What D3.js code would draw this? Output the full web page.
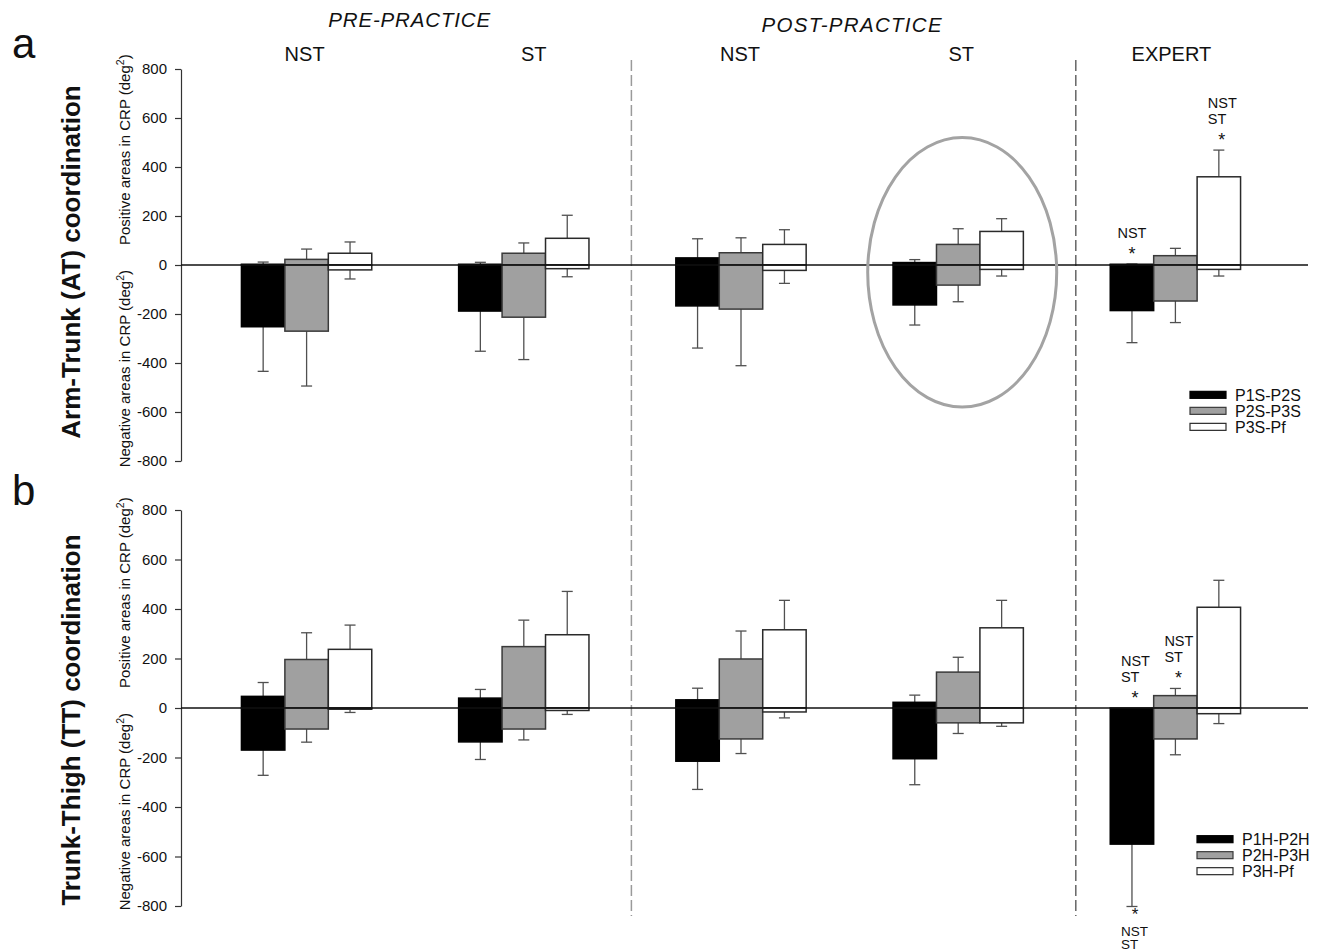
<!DOCTYPE html>
<html>
<head>
<meta charset="utf-8">
<script src="https://cdn.jsdelivr.net/npm/d3@7"></script>
<style>
  body { margin: 0; background: #fff; }
  svg { display: block; }
  text { font-family: "Liberation Sans", Arial, Helvetica, sans-serif; fill: #111; }
</style>
</head>
<body>
<svg id="chart" width="1321" height="952"></svg>
<script>
// ---- data ----------------------------------------------------------------
const groupLabels = ["NST", "ST", "NST", "ST", "EXPERT"];
const phaseLabels = ["PRE-PRACTICE", "POST-PRACTICE"];
const phaseGroups = [[0, 1], [2, 3]];
const yTicks = [-800, -600, -400, -200, 0, 200, 400, 600, 800];

// Arm-Trunk (AT): mean positive / negative CRP areas and their SD, one row per phase segment
const seriesAT = ["P1S-P2S", "P2S-P3S", "P3S-Pf"];
const atPos   = [[3, 3, 29, 10, 3], [23, 48, 50, 84, 38], [48, 109, 84, 137, 360]];
const atPosSD = [[9, 8, 78, 12, 1], [42, 42, 61, 64, 30], [46, 94, 60, 52, 109]];
const atNeg   = [[-252, -188, -167, -163, -186], [-270, -213, -180, -82, -147], [-20, -15, -22, -18, -18]];
const atNegSD = [[182, 164, 172, 82, 131], [224, 173, 231, 68, 88], [37, 33, 53, 27, 27]];

// Trunk-Thigh (TT)
const seriesTT = ["P1H-P2H", "P2H-P3H", "P3H-Pf"];
const ttPos   = [[47, 40, 33, 23, 0], [196, 248, 198, 145, 50], [237, 296, 316, 324, 407]];
const ttPosSD = [[56, 35, 47, 29, 0], [108, 107, 113, 60, 29], [98, 175, 119, 111, 109]];
const ttNeg   = [[-170, -137, -215, -205, -550], [-85, -85, -125, -60, -125], [-5, -10, -16, -60, -23]];
const ttNegSD = [[102, 71, 114, 105, 252], [53, 44, 59, 43, 64], [13, 16, 24, 14, 40]];

// significance marks (group, series, which side of zero, text lines)
const notesAT = [
  { group: 4, series: 0, side: "pos", lines: ["NST"] },
  { group: 4, series: 2, side: "pos", lines: ["NST", "ST"] }
];
const notesTT = [
  { group: 4, series: 0, side: "pos", lines: ["NST", "ST"] },
  { group: 4, series: 1, side: "pos", lines: ["NST", "ST"] },
  { group: 4, series: 0, side: "neg", lines: ["NST", "ST"] }
];

// ---- layout --------------------------------------------------------------
const svg = d3.select("#chart");
const axisX = 181;
const lineEnd = 1308;
const fills = ["#000000", "#a0a0a0", "#ffffff"];
const strokes = ["#000000", "#3a3a3a", "#2a2a2a"];

const x = d3.scaleBand().domain(d3.range(groupLabels.length)).range([198, 1284]);
const xs = d3.scaleBand().domain(d3.range(3)).range([x.bandwidth() * 0.2, x.bandwidth() * 0.8]);
const barX = (gi, si) => x(gi) + xs(si);
const barC = (gi, si) => barX(gi, si) + xs.bandwidth() / 2;

// group divider lines
const dividers = [
  { x: x(2) - 1, color: "#9a9a9a" },
  { x: x(4) + 9, color: "#666666" }
];
svg.selectAll("line.divider").data(dividers).join("line")
  .attr("class", "divider")
  .attr("x1", d => d.x).attr("x2", d => d.x)
  .attr("y1", 60).attr("y2", 916)
  .attr("stroke", d => d.color).attr("stroke-width", 1.5)
  .attr("stroke-dasharray", "11,4");

// phase headers and group headers
svg.selectAll("text.phase").data(phaseLabels).join("text")
  .attr("class", "phase")
  .attr("x", (d, i) => d3.mean(phaseGroups[i], g => x(g) + x.bandwidth() / 2) - (i === 0 ? 6 : -2))
  .attr("y", (d, i) => i === 0 ? 27 : 32)
  .attr("text-anchor", "middle")
  .attr("font-size", 20.5).attr("font-style", "italic")
  .attr("textLength", (d, i) => i === 0 ? 162 : 180)
  .attr("lengthAdjust", "spacing")
  .text(d => d);

const headerShift = [-2, 10, -1, 3, -4];
svg.selectAll("text.group").data(groupLabels).join("text")
  .attr("class", "group")
  .attr("x", (d, i) => x(i) + x.bandwidth() / 2 + headerShift[i])
  .attr("y", 61)
  .attr("text-anchor", "middle")
  .attr("font-size", 20)
  .text(d => d);

function drawPanel(p) {
  const y = d3.scaleLinear().domain([-800, 800]).range(p.range);
  const g = svg.append("g");

  // y axis
  const ax = g.append("g")
    .attr("transform", `translate(${axisX},0)`)
    .call(d3.axisLeft(y).tickValues(yTicks).tickSize(6).tickSizeOuter(0)
      .tickPadding(8).tickFormat(d => String(d)));
  ax.select(".domain").attr("stroke", "#333").attr("stroke-width", 1.2);
  ax.selectAll(".tick line").attr("stroke", "#333").attr("stroke-width", 1.2);
  ax.selectAll(".tick text").attr("font-size", 15).attr("fill", "#111")
    .attr("font-family", '"Liberation Sans", Arial, sans-serif');

  // panel letter
  g.append("text").attr("x", 12).attr("y", p.letterY)
    .attr("font-size", 42).text(p.letter);

  // main rotated title
  g.append("text")
    .attr("transform", `translate(80,${y(0) + p.titleShift}) rotate(-90)`)
    .attr("text-anchor", "middle").attr("font-size", 26).attr("font-weight", "bold")
    .text(p.title);

  // positive / negative axis labels
  const addLabel = (anchor, word, ypos) => {
    const t = g.append("text")
      .attr("transform", `translate(130,${ypos}) rotate(-90)`)
      .attr("text-anchor", anchor).attr("font-size", 15);
    t.append("tspan").text(word + " areas in CRP (deg");
    t.append("tspan").attr("dy", -6).attr("font-size", 10.5).text("2");
    t.append("tspan").attr("dy", 6).text(")");
  };
  addLabel("start", "Positive", y(0) - 20);
  addLabel("end", "Negative", y(0) + 5);

  // records: positive and negative bars with their SD
  const recs = [];
  p.series.forEach((s, si) => {
    groupLabels.forEach((gl, gi) => {
      recs.push({ si, gi, v: p.pos[si][gi], e: p.pos[si][gi] + p.posSD[si][gi] });
      recs.push({ si, gi, v: p.neg[si][gi], e: p.neg[si][gi] - p.negSD[si][gi] });
    });
  });
  const shown = recs.filter(d => d.v !== 0 || d.e !== 0);

  // error bars (behind bars)
  const eb = g.append("g").attr("stroke", "#505050").attr("stroke-width", 1.3);
  eb.selectAll("line.stem").data(shown).join("line")
    .attr("x1", d => barC(d.gi, d.si)).attr("x2", d => barC(d.gi, d.si))
    .attr("y1", d => y(d.v)).attr("y2", d => y(d.e));
  eb.selectAll("line.cap").data(shown).join("line")
    .attr("x1", d => barC(d.gi, d.si) - 5.5).attr("x2", d => barC(d.gi, d.si) + 5.5)
    .attr("y1", d => y(d.e)).attr("y2", d => y(d.e));

  // bars
  g.append("g").selectAll("rect").data(shown).join("rect")
    .attr("x", d => barX(d.gi, d.si))
    .attr("width", xs.bandwidth())
    .attr("y", d => Math.min(y(0), y(d.v)))
    .attr("height", d => Math.abs(y(d.v) - y(0)))
    .attr("fill", d => fills[d.si])
    .attr("stroke", d => strokes[d.si])
    .attr("stroke-width", 1.5);

  // zero line
  g.append("line").attr("x1", axisX).attr("x2", lineEnd)
    .attr("y1", y(0)).attr("y2", y(0))
    .attr("stroke", "#111").attr("stroke-width", 1.3);

  // significance marks: one text block per mark (label lines + asterisk)
  p.notes.forEach(n => {
    const si = n.series, gi = n.group;
    const v = n.side === "pos" ? p.pos[si][gi] + p.posSD[si][gi] : p.neg[si][gi] - p.negSD[si][gi];
    const cx = barC(gi, si);
    const anchorY = y(v);
    const multi = n.lines.length > 1;
    const tx = multi ? cx - 11 : cx - 14.5;
    const sx = multi ? cx + 3 : cx;
    const t = g.append("text").attr("font-size", 14.5);
    const star = (yy, fs) => t.append("tspan").attr("x", sx).attr("y", yy)
      .attr("text-anchor", "middle").attr("font-size", fs).text("*");
    const line = (ln, yy) => t.append("tspan").attr("x", tx).attr("y", yy)
      .attr("text-anchor", "start").text(ln);
    if (n.side === "pos") {
      const starBase = anchorY - 4;
      const firstBase = starBase - 22 - 16 * (n.lines.length - 1);
      n.lines.forEach((ln, k) => line(ln, firstBase + 16 * k));
      star(starBase, 18);
    } else {
      const starBase = anchorY + 14;
      star(starBase, 17);
      n.lines.forEach((ln, k) => line(ln, starBase + 16 + 13 * k).attr("font-size", 13.5));
    }
  });

  // legend
  const lg = g.append("g").attr("transform", `translate(${p.legendX},${y(-530)})`);
  p.series.forEach((s, si) => {
    lg.append("rect").attr("x", 0).attr("y", si * 16 - 3.5).attr("width", 36).attr("height", 7)
      .attr("fill", fills[si]).attr("stroke", strokes[si]).attr("stroke-width", 1.2);
    lg.append("text").attr("x", 45).attr("y", si * 16 + 6)
      .attr("font-size", 16).text(s);
  });

  return y;
}

const yA = drawPanel({
  range: [461, 69], letter: "a", letterY: 58, title: "Arm-Trunk (AT) coordination", titleShift: -3,
  series: seriesAT, pos: atPos, posSD: atPosSD, neg: atNeg, negSD: atNegSD,
  notes: notesAT, legendX: 1190
});

drawPanel({
  range: [906, 510], letter: "b", letterY: 505, title: "Trunk-Thigh (TT) coordination", titleShift: 12,
  series: seriesTT, pos: ttPos, posSD: ttPosSD, neg: ttNeg, negSD: ttNegSD,
  notes: notesTT, legendX: 1197
});

// highlight around the post-practice ST arm-trunk group
svg.append("ellipse")
  .attr("cx", x(3) + x.bandwidth() / 2 + 4)
  .attr("cy", (yA(520) + yA(-580)) / 2)
  .attr("rx", 94.5)
  .attr("ry", (yA(-580) - yA(520)) / 2)
  .attr("fill", "none").attr("stroke", "#a3a3a3").attr("stroke-width", 3);
</script>
</body>
</html>
